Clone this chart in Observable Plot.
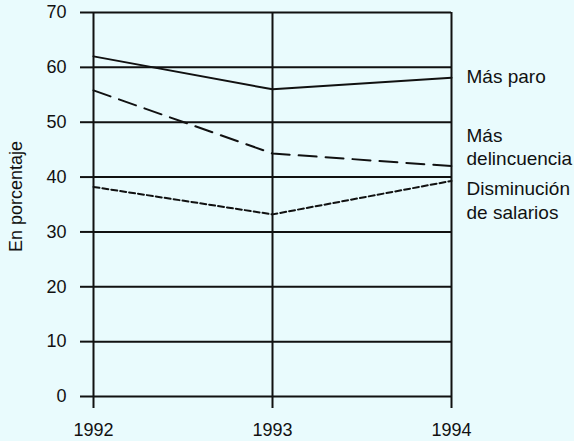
<!DOCTYPE html>
<html>
<head>
<meta charset="utf-8">
<script src="https://cdn.jsdelivr.net/npm/d3@7"></script>
<script src="https://cdn.jsdelivr.net/npm/@observablehq/plot@0.6"></script>
<style>
  html, body { margin: 0; padding: 0; background: #e9fbfd; }
  #chart svg { display: block; }
</style>
</head>
<body>
<div id="chart"></div>
<script>
const years = [1992, 1993, 1994];
const series = ["Más paro", "Más delincuencia", "Disminución de salarios"];
const paro = [62, 56, 58.1];
const delincuencia = [55.8, 44.3, 42];
const salarios = [38.2, 33.2, 39.3];
const yTicks = [0, 10, 20, 30, 40, 50, 60, 70];
const labelText = ["Más paro", "Más\ndelincuencia", "Disminución\nde salarios"];
const labelY = [58.5, 45.6, 35.9];

const values = [paro, delincuencia, salarios];
const data = series.flatMap((s, i) => years.map((yr, j) => ({series: s, year: yr, value: values[i][j]})));
const labels = series.map((s, i) => ({series: s, text: labelText[i], year: years[years.length - 1], value: labelY[i]}));
const dashes = {"Más paro": null, "Más delincuencia": "18,9", "Disminución de salarios": "6,3"};

const plot = Plot.plot({
  width: 574,
  height: 441,
  marginLeft: 93,
  marginRight: 123,
  marginTop: 12,
  marginBottom: 45,
  style: {background: "#e9fbfd", fontFamily: "Liberation Sans, Arial, sans-serif", fontSize: "18px", color: "#111"},
  x: {domain: [1992, 1994]},
  y: {domain: [0, 70]},
  marks: [
    Plot.ruleY(yTicks, {stroke: "#111", strokeWidth: 2}),
    Plot.ruleX(years, {y1: 0, y2: 70, stroke: "#111", strokeWidth: 2}),
    Plot.axisY({ticks: yTicks, tickSize: 13, tickPadding: 14, strokeWidth: 2, strokeOpacity: 1, label: null, fontSize: 18}),
    Plot.axisX({ticks: years, tickSize: 12, tickPadding: 15, strokeWidth: 2, strokeOpacity: 1, tickFormat: d => String(d), label: null, fontSize: 18}),
    Plot.text(["En porcentaje"], {frameAnchor: "left", textAnchor: "middle", dx: -77, dy: -8, rotate: -90, fontSize: 18}),
    ...series.map(s => Plot.line(data.filter(d => d.series === s), {
      x: "year", y: "value", stroke: "#111", strokeWidth: 2, strokeDasharray: dashes[s]
    })),
    Plot.text(labels, {x: "year", y: "value", text: "text", textAnchor: "start", dx: 15, fontSize: 19, lineHeight: 1.22})
  ]
});
document.getElementById("chart").appendChild(plot);
</script>
</body>
</html>
